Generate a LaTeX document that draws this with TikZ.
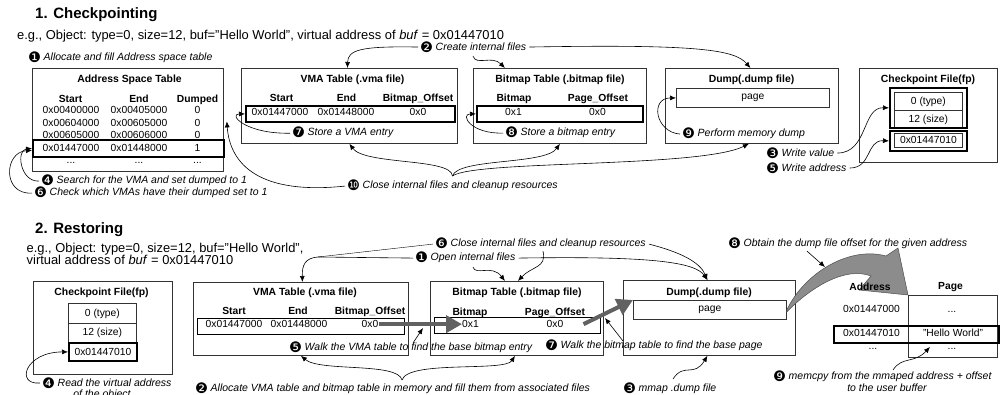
\documentclass[tikz,border=0pt]{standalone}
\usepackage{fontspec}
\setmainfont{Liberation Sans}
\newfontfamily\dingfont{DejaVu Sans}
\usetikzlibrary{arrows.meta,positioning}

\newcommand{\cnum}[1]{\smash{\raisebox{-1.3pt}{\upshape\dingfont\fontsize{14.5}{14}\selectfont #1}}\hspace{2.5pt}}

\tikzset{
  box/.style={draw=black!80, line width=0.8pt, anchor=north west, inner sep=0pt},
  hlrow/.style={draw=black, line width=1.8pt, anchor=north west, inner sep=0pt},
  ttl/.style={anchor=base, inner sep=0pt, font=\bfseries\fontsize{10.4}{12}\selectfont},
  hdr/.style={anchor=base, inner sep=0pt, font=\bfseries\fontsize{10.3}{12}\selectfont},
  val/.style={anchor=base, inner sep=0pt, font=\fontsize{10.3}{12}\selectfont},
  note/.style={anchor=base west, inner sep=0pt, font=\itshape\fontsize{10.5}{12}\selectfont},
  link/.style={-{Latex[length=6pt,width=5pt]}, line width=0.6pt},
  fat/.style={-{Triangle[length=16pt,width=17pt]}, line width=4pt, draw=black!62},
  sectitle/.style={anchor=base west, inner sep=0pt, font=\bfseries\fontsize{15}{18}\selectfont},
  example/.style={anchor=base west, inner sep=0pt, font=\fontsize{12.9}{14}\selectfont},
}

\begin{document}
\begin{tikzpicture}[x=1pt,y=-1pt]
\useasboundingbox (0,0) rectangle (1001,395);

\node[sectitle] (sec1) at (35,18.5) {1. Checkpointing};
\node[example] (eg1) at (17,39.6) {e.g., Object: type=0, size=12, buf="Hello World", virtual address of \textit{buf} = 0x01447010};

\node[box, minimum width=191pt, minimum height=103pt] (ast) at (32,68) {};
\node[ttl] (astT) at (129.5,82.7) {Address Space Table};
\node[hdr] (astS) at (70.5,102.2) {Start};
\node[hdr] (astE) at (139,102.2) {End};
\node[hdr] (astD) at (197.5,102.2) {Dumped};
\node[val] (as1) at (71,113.7) {0x00400000};
\node[val] (ae1) at (139,113.7) {0x00405000};
\node[val] (ad1) at (197.5,113.7) {0};
\node[val] (as2) at (71,126.3) {0x00604000};
\node[val] (ae2) at (139,126.3) {0x00605000};
\node[val] (ad2) at (197.5,126.3) {0};
\node[val] (as3) at (71,138.9) {0x00605000};
\node[val] (ae3) at (139,138.9) {0x00606000};
\node[val] (ad3) at (197.5,138.9) {0};
\node[val] (as4) at (71,151.5) {0x01447000};
\node[val] (ae4) at (139,151.5) {0x01448000};
\node[val] (ad4) at (197.5,151.5) {1};
\node[val] (as5) at (71,164) {...};
\node[val] (ae5) at (139,164) {...};
\node[val] (ad5) at (197.5,164) {...};
\node[hlrow, minimum width=191pt, minimum height=17pt] (astrow) at (32,139) {};

\node[box, minimum width=216pt, minimum height=75pt] (vma1) at (241,68) {};
\node[ttl] (vma1T) at (352.5,82.7) {VMA Table (.vma file)};
\node[hdr] (vma1S) at (281.5,101.7) {Start};
\node[hdr] (vma1E) at (346.5,101.7) {End};
\node[hdr] (vma1B) at (418,101.7) {Bitmap\_Offset};
\node[val] (v1s) at (280,115.7) {0x01447000};
\node[val] (v1e) at (346,115.7) {0x01448000};
\node[val] (v1b) at (418,115.7) {0x0};
\node[hlrow, minimum width=209pt, minimum height=16pt] (vrow1) at (245,105) {};

\node[box, minimum width=173pt, minimum height=75pt] (bmp1) at (473,68) {};
\node[ttl] (bmp1T) at (560,82.7) {Bitmap Table (.bitmap file)};
\node[hdr] (bmp1B) at (514,102) {Bitmap};
\node[hdr] (bmp1P) at (598,102) {Page\_Offset};
\node[val] (b1b) at (513.5,115.7) {0x1};
\node[val] (b1p) at (597.5,115.7) {0x0};
\node[hlrow, minimum width=166pt, minimum height=16pt] (brow1) at (476,105) {};

\node[box, minimum width=173pt, minimum height=75pt] (dump1) at (665,68) {};
\node[ttl] (dump1T) at (751.5,82.7) {Dump(.dump file)};
\node[box, minimum width=153pt, minimum height=19pt, font=\fontsize{10.3}{12}\selectfont] (page1) at (676,88) {page};

\node[box, minimum width=138pt, minimum height=94pt] (ckpt1) at (859,68) {};
\node[ttl] (ckpt1T) at (928,82.7) {Checkpoint File(fp)};
\node[box, minimum width=68pt, minimum height=18pt, font=\fontsize{10.3}{12}\selectfont] (ck1a) at (894,92) {0 (type)};
\node[box, minimum width=68pt, minimum height=18pt, font=\fontsize{10.3}{12}\selectfont] (ck1b) at (894,110) {12 (size)};
\node[box, minimum width=68pt, minimum height=14pt, font=\fontsize{10.3}{12}\selectfont] (ck1c) at (894,133) {0x01447010};
\node[hlrow, minimum width=77pt, minimum height=40pt] (ck1v) at (889,87) {};
\node[hlrow, minimum width=77pt, minimum height=20pt] (ck1p) at (889,130) {};

\node[note] (a1) at (28,60.8) {\cnum{❶}Allocate and fill Address space table};
\node[note] (a2) at (420,50.8) {\cnum{❷}Create internal files};
\node[note] (a3) at (766,156.8) {\cnum{❸}Write value};
\node[note] (a4) at (41,183.8) {\cnum{❹}Search for the VMA and set dumped to 1};
\node[note] (a5) at (766,171.8) {\cnum{❺}Write address};
\node[note] (a6) at (34,195.8) {\cnum{❻}Check which VMAs have their dumped set to 1};
\node[note] (a7) at (292,135.8) {\cnum{❼}Store a VMA entry};
\node[note] (a8) at (505,135.8) {\cnum{❽}Store a bitmap entry};
\node[note] (a9) at (682,136.8) {\cnum{❾}Perform memory dump};
\node[note] (a10) at (347,188.8) {\cnum{❿}Close internal files and cleanup resources};

\draw[link] ([xshift=-2pt]a2.west) .. controls (360,46) and (348,50) .. ([xshift=-2pt]vma1.north);
\draw[link] ([xshift=3pt]a2.east) .. controls (700,44) and (735,50) .. ([xshift=-1.5pt]dump1.north);
\draw[link] ([xshift=53pt,yshift=-5pt]a2.south west) .. controls (476,66) and (492,55) .. ([xshift=-55pt]bmp1.north);
\draw[link] ([xshift=3pt]a3.east) .. controls (868,153) and (862,107) .. (ck1v.west);
\draw[link] ([xshift=3pt]a5.east) .. controls (872,168) and (866,140) .. (ck1p.west);
\draw[link] ([xshift=-2pt]a4.west) .. controls (20,182) and (16,150) .. (astrow.west);
\draw[link] ([xshift=-2pt]a6.west) .. controls (2,195) and (4,152) .. ([yshift=-2pt]astrow.west);
\draw[link] ([xshift=-2pt]a7.west) .. controls (245,134) and (228,114) .. (vrow1.west);
\draw[link] ([xshift=-2pt]a8.west) .. controls (470,134) and (460,114) .. (brow1.west);
\draw[link] ([xshift=-2pt]a9.west) .. controls (655,132) and (650,98) .. (page1.west);
\draw[link] ([xshift=-2pt]a10.west) .. controls (260,195) and (230,165) .. ([xshift=3pt,yshift=-1.5pt]ast.east);
\draw[link] ([yshift=5pt]a10.north) .. controls (452,158) and (365,165) .. (vma1.south);
\draw[link] ([yshift=5pt]a10.north) .. controls (458,158) and (545,165) .. (bmp1.south);
\draw[link] ([yshift=5pt]a10.north) .. controls (475,160) and (700,168) .. ([xshift=-3pt]dump1.south);

\node[sectitle] (sec2) at (35,233.7) {2. Restoring};
\node[example] (eg2a) at (26.5,252.9) {e.g., Object: type=0, size=12, buf="Hello World",};
\node[example] (eg2b) at (26.5,265) {virtual address of \textit{buf} = 0x01447010};

\node[box, minimum width=139pt, minimum height=93pt] (ckpt2) at (33,281) {};
\node[ttl] (ckpt2T) at (101.5,295.4) {Checkpoint File(fp)};
\node[box, minimum width=68pt, minimum height=20pt, font=\fontsize{10.3}{12}\selectfont] (c1) at (68,303) {0 (type)};
\node[box, minimum width=68pt, minimum height=19pt, font=\fontsize{10.3}{12}\selectfont] (c2) at (68,323) {12 (size)};
\node[hlrow, minimum width=68pt, minimum height=18pt, font=\fontsize{10.3}{12}\selectfont] (c3) at (68,342) {0x01447010};

\node[box, minimum width=215pt, minimum height=73pt] (vma2) at (193,282) {};
\node[ttl] (vma2T) at (305,295.7) {VMA Table (.vma file)};
\node[hdr] (vma2S) at (234,314.7) {Start};
\node[hdr] (vma2E) at (298,314.7) {End};
\node[hdr] (vma2B) at (370,314.7) {Bitmap\_Offset};
\node[val] (v2s) at (234,327.7) {0x01447000};
\node[val] (v2e) at (299,327.7) {0x01448000};
\node[val] (v2off) at (370,327.7) {0x0};
\node[hlrow, line width=1.2pt, minimum width=207pt, minimum height=16pt] (vrow2) at (197,318) {};

\node[box, minimum width=173pt, minimum height=74pt] (bmp2) at (430,281) {};
\node[ttl] (bmp2T) at (517,295) {Bitmap Table (.bitmap file)};
\node[hdr] (bmp2B) at (470,315.7) {Bitmap};
\node[hdr] (bmp2P) at (555,315.7) {Page\_Offset};
\node[val] (b2bit) at (470.5,327.7) {0x1};
\node[val] (b2pg) at (555,327.7) {0x0};
\node[hlrow, line width=1.2pt, minimum width=166pt, minimum height=16pt] (brow2) at (434,317) {};

\node[box, minimum width=172pt, minimum height=75pt] (dump2) at (623,280) {};
\node[ttl] (dump2T) at (709,295) {Dump(.dump file)};
\node[box, minimum width=153pt, minimum height=19pt, font=\fontsize{10.3}{12}\selectfont] (page2) at (633,300) {page};

\fill[black!45, draw=black!70, line width=0.5pt] (page2.east) .. controls (805,272) and (850,246) .. (886,256) -- (898,248) -- (908,295) -- (859,290) -- (871,276) .. controls (845,266) and (810,288) .. ([yshift=-2pt]page2.east) -- cycle;

\node[hdr] (addrH) at (870,290.7) {Address};
\node[hdr] (pageH) at (950.5,289.7) {Page};
\node[box, minimum width=89pt, minimum height=62pt] (pgcol) at (908,295) {};
\node[val] (ad1v) at (871.5,312.5) {0x01447000};
\node[val] (pg1v) at (952,312.5) {...};
\node[val] (ad2v) at (871.5,336.7) {0x01447010};
\node[val] (pg2v) at (953,336.7) {"Hello World"};
\node[val] (ad3v) at (873,349.5) {...};
\node[val] (pg3v) at (952,349.5) {...};
\node[hlrow, minimum width=165pt, minimum height=17pt] (hlrow2) at (833,325) {};

\coordinate (j1) at (318,257);
\coordinate (g1) at (423,328);
\coordinate (g2) at (605,318);
\coordinate (g3) at (825,267);
\coordinate (g4) at (930,347);

\draw[fat] (v2off.east) -- (b2bit.west);
\draw[fat] ([xshift=20pt]b2pg.east) -- (page2.north west);

\node[note] (b6) at (435,246.8) {\cnum{❻}Close internal files and cleanup resources};
\node[note] (b1) at (415,260.8) {\cnum{❶}Open internal files};
\node[note] (b8) at (728,246.8) {\cnum{❽}Obtain the dump file offset for the given address};
\node[note] (b5) at (289,350.8) {\cnum{❺}Walk the VMA table to find the base bitmap entry};
\node[note] (b7) at (545,348.8) {\cnum{❼}Walk the bitmap table to find the base page};
\node[note] (b2) at (195,391.8) {\cnum{❷}Allocate VMA table and bitmap table in memory and fill them from associated files};
\node[note] (b3) at (623,391.8) {\cnum{❸}mmap .dump file};
\node[note] (b4) at (42,386.8) {\cnum{❹}Read the virtual address};
\node[note, anchor=base] (b4b) at (102,397.5) {of the object};
\node[note] (b9) at (773,379.8) {\cnum{❾}memcpy from the mmaped address + offset};
\node[note, anchor=base] (b9b) at (887,391.8) {to the user buffer};

\draw ([xshift=-2pt]b6.west) -- (j1);
\draw[link] ([xshift=-2pt]b1.west) -- (j1) .. controls (305,258) and (302,265) .. ([xshift=1.5pt]vma2.north);
\draw[link] ([xshift=3pt]b1.east) .. controls (650,256) and (695,262) .. ([xshift=-2pt]dump2.north);
\draw[link] ([xshift=3pt]b6.east) .. controls (680,252) and (700,262) .. ([xshift=-2pt]dump2.north);
\draw[link] ([xshift=58pt,yshift=-4pt]b1.south west) .. controls (476,276) and (492,264) .. ([xshift=-12pt]bmp2.north);
\draw[link] ([xshift=108pt,yshift=-2pt]b6.south west) .. controls (547,268) and (532,266) .. ([xshift=1pt]bmp2.north);
\draw[link] ([xshift=124pt]b5.north west) -- (g1);
\draw[link] ([xshift=78pt]b7.north west) -- (g2);
\draw[link] ([xshift=207pt,yshift=4pt]b2.north west) .. controls (398,362) and (320,372) .. (vma2.south);
\draw[link] ([xshift=207pt,yshift=4pt]b2.north west) .. controls (408,360) and (505,372) .. ([xshift=-2pt]bmp2.south);
\draw[link] ([xshift=50pt,yshift=5pt]b3.north west) .. controls (684,362) and (694,378) .. ([xshift=-2pt]dump2.south);
\draw[link] ([xshift=79pt,yshift=-2pt]b8.south west) -- (g3);
\draw[link] ([xshift=120pt,yshift=2pt]b9.north west) .. controls (902,356) and (914,364) .. (g4);
\draw[link] ([xshift=-2pt]b4.west) .. controls (15,385) and (25,352) .. (c3.west);

\end{tikzpicture}
\end{document}
